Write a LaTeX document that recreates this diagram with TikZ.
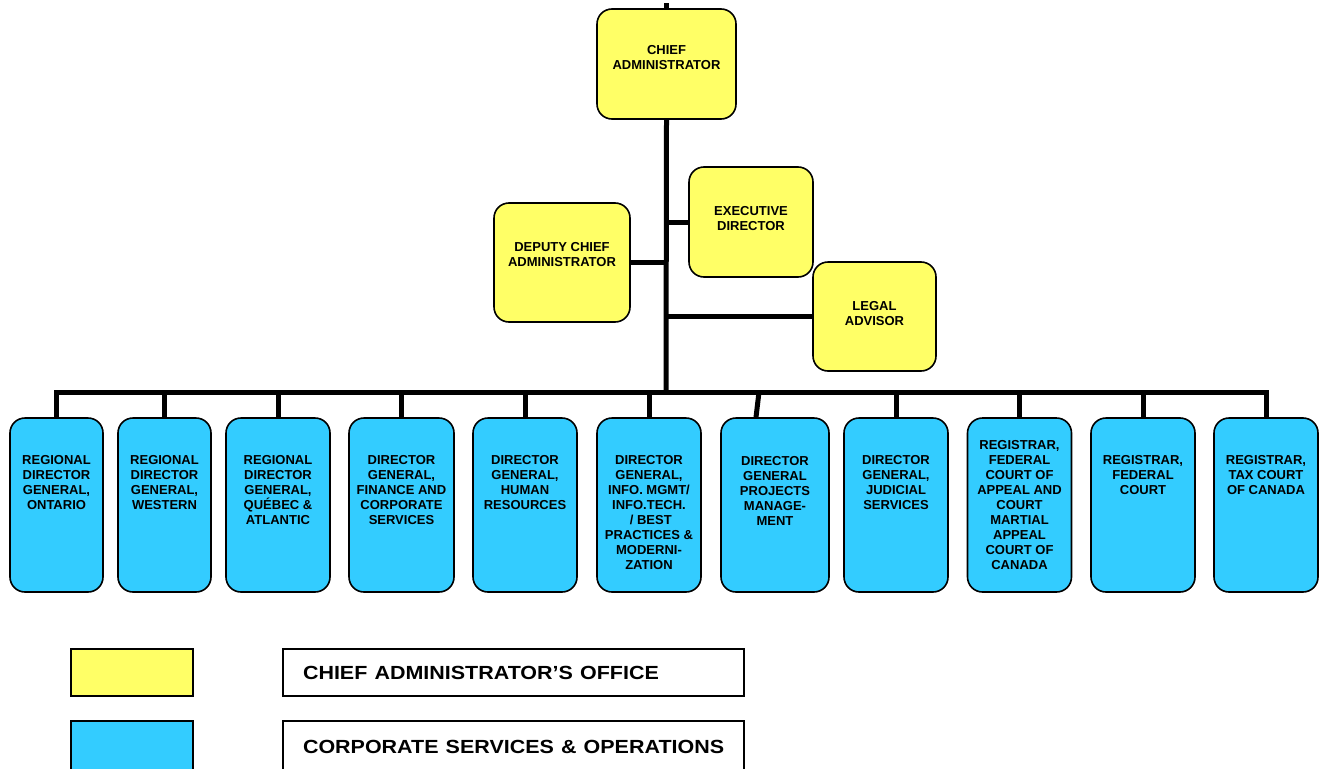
\documentclass[tikz,border=0pt]{standalone}
\usepackage{fontspec}
\setmainfont{Liberation Sans}
\usepackage{tikz}
\usetikzlibrary{positioning}
\definecolor{caoyellow}{RGB}{255,255,102}
\definecolor{csblue}{RGB}{51,204,255}

\begin{document}
\begin{tikzpicture}[x=1pt,y=-1pt,
  ybox/.style={draw, line width=1.6pt, rounded corners=15pt, fill=caoyellow, inner sep=0pt},
  bbox/.style={draw, line width=1.6pt, rounded corners=15pt, fill=csblue, inner sep=0pt, minimum height=174pt},
  boxtxt/.style={align=center, inner sep=0pt, font=\fontsize{13}{15}\selectfont\bfseries},
  link/.style={line width=5pt},
  keybox/.style={draw, line width=1.3pt, minimum width=122pt, minimum height=47pt, inner sep=0pt},
  keytxt/.style={draw, line width=1.3pt, minimum width=461pt, minimum height=47pt, inner sep=0pt, text width=421pt, align=left, font=\fontsize{19}{22}\selectfont\bfseries}]
\useasboundingbox (0,0) rectangle (1324,768);
% top office
\node [ybox, minimum width=139pt, minimum height=110pt] (chief) at (666.5,64) {};
\node [boxtxt] (chief-t) at (666.5,58) {CHIEF\\ADMINISTRATOR};
\node [ybox, minimum width=136pt, minimum height=119pt] (deputy) at (562,262.5) {};
\node [boxtxt] (deputy-t) at (562,255) {DEPUTY CHIEF\\ADMINISTRATOR};
\node [ybox, minimum width=124pt, minimum height=110pt] (exec) at (751,222) {};
\node [boxtxt] (exec-t) at (751,219) {EXECUTIVE\\DIRECTOR};
\node [ybox, minimum width=123pt, minimum height=109pt] (legal) at (874.5,316.5) {};
\node [boxtxt] (legal-t) at (874.5,314) {LEGAL\\ADVISOR};
\coordinate (bus) at (666,392);
\draw [link] (chief.north) -- ++(0,-5);
\draw [link] (chief.south) -- (bus);
\draw [link] (deputy.east) -- (deputy.east -| bus);
\draw [link] (exec.west) -- (exec.west -| bus);
\draw [link] (legal.west) -- (legal.west -| bus);
% directorates
\foreach \i/\x/\w/\dy/\txt in {
  1/56.5/93/0/{REGIONAL\\DIRECTOR\\GENERAL,\\ONTARIO},
  2/164.5/93/0/{REGIONAL\\DIRECTOR\\GENERAL,\\WESTERN},
  3/278/104/0/{REGIONAL\\DIRECTOR\\GENERAL,\\QUÉBEC \&\\ATLANTIC},
  4/401.5/105/0/{DIRECTOR\\GENERAL,\\FINANCE AND\\CORPORATE\\SERVICES},
  5/525/104/0/{DIRECTOR\\GENERAL,\\HUMAN\\RESOURCES},
  6/649/104/0/{DIRECTOR\\GENERAL,\\INFO. MGMT/\\INFO.TECH.\\\ / BEST\\PRACTICES \&\\MODERNI-\\ZATION},
  7/775/108/1/{DIRECTOR\\GENERAL\\PROJECTS\\MANAGE-\\MENT},
  8/896/104/0/{DIRECTOR\\GENERAL,\\JUDICIAL\\SERVICES},
  9/1019.5/104/-15/{REGISTRAR,\\FEDERAL\\COURT OF\\APPEAL AND\\COURT\\MARTIAL\\APPEAL\\COURT OF\\CANADA},
  10/1143/104/0/{REGISTRAR,\\FEDERAL\\COURT},
  11/1266/104/0/{REGISTRAR,\\TAX COURT\\OF CANADA}}
{\node [bbox, minimum width=\w pt] (b\i) at (\x,505) {};
 \node [boxtxt, anchor=north] (b\i-t) at ([yshift=-38-\dy]b\i.north) {\txt};}
\draw [link] (b1.north) |- (bus) -| (b11.north);
\foreach \i in {2,3,4,5,6,8,9,10} {\draw [link] (b\i.north) -- (b\i.north |- bus);}
\draw [link] ([xshift=-19pt]b7.north) -- ([xshift=-16pt]b7.north |- bus);
% legend
\node [keybox, fill=caoyellow] (key1) at (132,672.5) {};
\node [keytxt] (key1-t) at (513.5,672.5) {\scalebox{1.13}[1]{CHIEF ADMINISTRATOR’S OFFICE}};
\node [keybox, fill=csblue, minimum height=51pt] (key2) at (132,746.5) {};
\node [keytxt, minimum height=51pt] (key2-t) at (513.5,746.5) {\scalebox{1.13}[1]{CORPORATE SERVICES \& OPERATIONS}};
\end{tikzpicture}
\end{document}
